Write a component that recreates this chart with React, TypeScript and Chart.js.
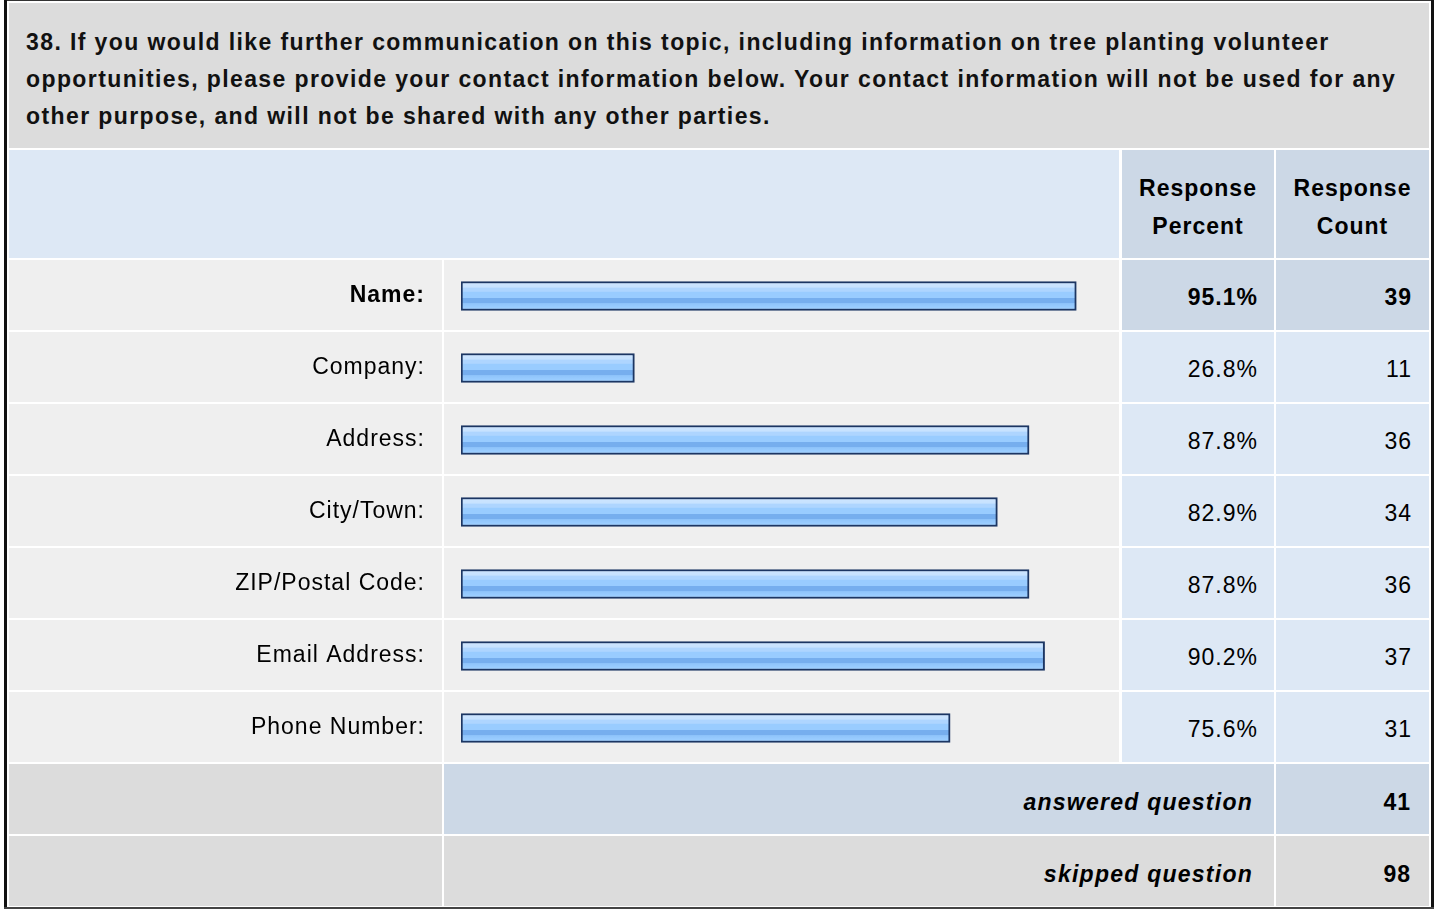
import React, { useEffect, useRef } from "react";
import { Chart, registerables } from "chart.js";

Chart.register(...registerables);

const questionLines = [
  "38. If you would like further communication on this topic, including information on tree planting volunteer",
  "opportunities, please provide your contact information below. Your contact information will not be used for any",
  "other purpose, and will not be shared with any other parties.",
];
const headerPercent = ["Response", "Percent"];
const headerCount = ["Response", "Count"];
const categories = [
  "Name:",
  "Company:",
  "Address:",
  "City/Town:",
  "ZIP/Postal Code:",
  "Email Address:",
  "Phone Number:",
];
const responsePercent = [95.1, 26.8, 87.8, 82.9, 87.8, 90.2, 75.6];
const responseCount = [39, 11, 36, 34, 36, 37, 31];
const highlightedRow = 0;
const answeredLabel = "answered question";
const answeredCount = 41;
const skippedLabel = "skipped question";
const skippedCount = 98;

const FONT = '"Liberation Sans", Arial, Helvetica, sans-serif';
const LS = "1px";

// layout
const COL_LABEL = [9, 441.5];
const COL_BAR = [444, 1119];
const COL_PCT = [1122, 1274];
const COL_CNT = [1276, 1429];
const ROW_TOP = 260;
const ROW_PITCH = 72;
const ROW_H = 70;

const C_GRAY = "#dcdcdc";
const C_ROW = "#efefef";
const C_BLUE = "#dde8f5";
const C_BLUE2 = "#ccd8e6";

function Cell(props: {
  x1: number;
  x2: number;
  y1: number;
  y2: number;
  bg: string;
  children?: React.ReactNode;
  style?: React.CSSProperties;
}) {
  const { x1, x2, y1, y2, bg, children, style } = props;
  return (
    <div
      style={{
        position: "absolute",
        left: x1,
        top: y1,
        width: x2 - x1,
        height: y2 - y1,
        background: bg,
        boxSizing: "border-box",
        ...style,
      }}
    >
      {children}
    </div>
  );
}

function barGradient(c: any) {
  const chart = c.chart;
  const y = chart.scales && chart.scales.y;
  if (!y || c.dataIndex === undefined || !chart.chartArea) return "#99ccff";
  const cy = y.getPixelForValue(c.dataIndex);
  const top = cy - 14.5;
  const bottom = cy + 14.5;
  const g = chart.ctx.createLinearGradient(0, top, 0, bottom);
  g.addColorStop(0, "#cfe6ff");
  g.addColorStop(0.2, "#c6e2ff");
  g.addColorStop(0.22, "#aed5ff");
  g.addColorStop(0.34, "#aed5ff");
  g.addColorStop(0.36, "#99ccff");
  g.addColorStop(0.56, "#99ccff");
  g.addColorStop(0.58, "#76aeee");
  g.addColorStop(0.74, "#76aeee");
  g.addColorStop(0.76, "#8fc4fb");
  g.addColorStop(0.9, "#9acdff");
  g.addColorStop(1, "#a6d2ff");
  return g;
}

function BarChart() {
  const ref = useRef<HTMLCanvasElement | null>(null);
  useEffect(() => {
    if (!ref.current) return;
    const chart = new Chart(ref.current, {
      type: "bar",
      data: {
        labels: categories,
        datasets: [
          {
            data: responsePercent,
            backgroundColor: barGradient,
            borderColor: "#1c3663",
            borderWidth: 2,
            borderSkipped: false,
            barThickness: 29,
          },
        ],
      },
      options: {
        indexAxis: "y",
        animation: false,
        responsive: false,
        maintainAspectRatio: false,
        layout: { autoPadding: false, padding: { left: 0, right: 11, top: 0, bottom: 0 } },
        plugins: {
          legend: { display: false },
          tooltip: { enabled: false },
          title: { display: false },
        },
        scales: {
          x: { display: false, min: 0, max: 100 },
          y: {
            grid: { display: false, drawTicks: false },
            border: { display: false },
            ticks: {
              padding: 36,
              color: "#000",
              font: (c: any) => ({
                family: FONT,
                size: 23,
                weight: c.index === highlightedRow ? "bold" : "normal",
              }),
            },
            afterFit: (s: any) => {
              s.width = 452;
              s.paddingTop = 0;
              s.paddingBottom = 0;
            },
          },
        },
      },
      plugins: [
        {
          id: "letterSpacing",
          beforeDraw: (ch: any) => {
            ch.ctx.letterSpacing = LS;
          },
        },
      ],
    } as any);
    return () => chart.destroy();
  }, []);
  return (
    <canvas
      ref={ref}
      width={COL_BAR[1] - COL_LABEL[0]}
      height={ROW_PITCH * categories.length}
      style={{
        position: "absolute",
        left: COL_LABEL[0],
        top: ROW_TOP,
        width: COL_BAR[1] - COL_LABEL[0],
        height: ROW_PITCH * categories.length,
      }}
    />
  );
}

export default function App() {
  const textBase: React.CSSProperties = {
    fontFamily: FONT,
    fontSize: 23,
    letterSpacing: LS,
    color: "#000",
  };
  const rows = categories.map((_, i) => {
    const y1 = ROW_TOP + ROW_PITCH * i;
    const y2 = y1 + ROW_H;
    const hi = i === highlightedRow;
    const numStyle: React.CSSProperties = {
      ...textBase,
      fontWeight: hi ? "bold" : "normal",
      lineHeight: ROW_H + 4 + "px",
      textAlign: "right",
    };
    return (
      <React.Fragment key={i}>
        <Cell x1={COL_LABEL[0]} x2={COL_LABEL[1]} y1={y1} y2={y2} bg={C_ROW} />
        <Cell x1={COL_BAR[0]} x2={COL_BAR[1]} y1={y1} y2={y2} bg={C_ROW} />
        <Cell
          x1={COL_PCT[0]}
          x2={COL_PCT[1]}
          y1={y1}
          y2={y2}
          bg={hi ? C_BLUE2 : C_BLUE}
          style={{ ...numStyle, paddingRight: 16 }}
        >
          {responsePercent[i].toFixed(1) + "%"}
        </Cell>
        <Cell
          x1={COL_CNT[0]}
          x2={COL_CNT[1]}
          y1={y1}
          y2={y2}
          bg={hi ? C_BLUE2 : C_BLUE}
          style={{ ...numStyle, paddingRight: 17 }}
        >
          {responseCount[i]}
        </Cell>
      </React.Fragment>
    );
  });

  const yA = ROW_TOP + ROW_PITCH * categories.length;
  const yS = yA + ROW_PITCH;
  const sumStyle: React.CSSProperties = {
    ...textBase,
    fontWeight: "bold",
    lineHeight: ROW_H + 6 + "px",
    textAlign: "right",
  };

  return (
    <div
      style={{
        position: "absolute",
        left: 0,
        top: 0,
        width: 1434,
        height: 909,
        background: "#fff",
        overflow: "hidden",
      }}
    >
      {/* frame */}
      <div style={{ position: "absolute", left: 4, top: 0, width: 1430, height: 1, background: "#333" }} />
      <div style={{ position: "absolute", left: 4, top: 0, width: 3, height: 909, background: "#111" }} />
      <div style={{ position: "absolute", left: 1431, top: 0, width: 3, height: 909, background: "#111" }} />
      <div style={{ position: "absolute", left: 4, top: 907, width: 1430, height: 2, background: "#444" }} />

      {/* question title */}
      <Cell x1={9} x2={1429} y1={3} y2={148} bg={C_GRAY}>
        <div
          style={{
            ...textBase,
            position: "absolute",
            left: 17,
            top: 21,
            fontWeight: "bold",
            lineHeight: "37px",
            letterSpacing: "1.4px",
            whiteSpace: "nowrap",
            color: "#111",
          }}
        >
          {questionLines.map((l, i) => (
            <div key={i}>{l}</div>
          ))}
        </div>
      </Cell>

      {/* header */}
      <Cell x1={9} x2={COL_BAR[1]} y1={150} y2={257.5} bg={C_BLUE} />
      <Cell x1={COL_PCT[0]} x2={COL_PCT[1]} y1={150} y2={257.5} bg={C_BLUE2}>
        <div
          style={{
            ...textBase,
            position: "absolute",
            left: 0,
            right: 0,
            top: 19,
            fontWeight: "bold",
            lineHeight: "38px",
            textAlign: "center",
          }}
        >
          {headerPercent.map((l, i) => (
            <div key={i}>{l}</div>
          ))}
        </div>
      </Cell>
      <Cell x1={COL_CNT[0]} x2={COL_CNT[1]} y1={150} y2={257.5} bg={C_BLUE2}>
        <div
          style={{
            ...textBase,
            position: "absolute",
            left: 0,
            right: 0,
            top: 19,
            fontWeight: "bold",
            lineHeight: "38px",
            textAlign: "center",
          }}
        >
          {headerCount.map((l, i) => (
            <div key={i}>{l}</div>
          ))}
        </div>
      </Cell>

      {rows}

      {/* answered */}
      <Cell x1={COL_LABEL[0]} x2={COL_LABEL[1]} y1={yA} y2={yA + ROW_H} bg={C_GRAY} />
      <Cell
        x1={COL_BAR[0]}
        x2={COL_PCT[1]}
        y1={yA}
        y2={yA + ROW_H}
        bg={C_BLUE2}
        style={{ ...sumStyle, fontStyle: "italic", letterSpacing: "1.25px", paddingRight: 21 }}
      >
        {answeredLabel}
      </Cell>
      <Cell
        x1={COL_CNT[0]}
        x2={COL_CNT[1]}
        y1={yA}
        y2={yA + ROW_H}
        bg={C_BLUE2}
        style={{ ...sumStyle, paddingRight: 18 }}
      >
        {answeredCount}
      </Cell>

      {/* skipped */}
      <Cell x1={COL_LABEL[0]} x2={COL_LABEL[1]} y1={yS} y2={yS + ROW_H} bg={C_GRAY} />
      <Cell
        x1={COL_BAR[0]}
        x2={COL_PCT[1]}
        y1={yS}
        y2={yS + ROW_H}
        bg={C_GRAY}
        style={{ ...sumStyle, fontStyle: "italic", letterSpacing: "1.25px", paddingRight: 21 }}
      >
        {skippedLabel}
      </Cell>
      <Cell
        x1={COL_CNT[0]}
        x2={COL_CNT[1]}
        y1={yS}
        y2={yS + ROW_H}
        bg={C_GRAY}
        style={{ ...sumStyle, paddingRight: 18 }}
      >
        {skippedCount}
      </Cell>

      <BarChart />
    </div>
  );
}
